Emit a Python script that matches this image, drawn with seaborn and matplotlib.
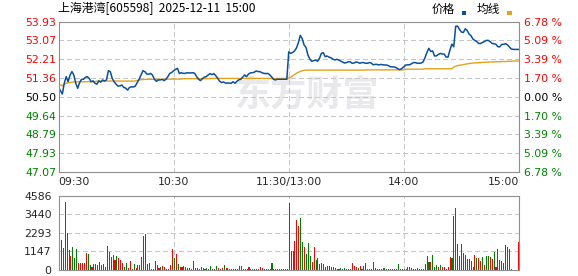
import numpy as np
import pandas as pd
import matplotlib
matplotlib.use("Agg")
import matplotlib.pyplot as plt
import seaborn as sns
from matplotlib.patches import Rectangle

# ---------------- data ----------------
title = "上海港湾[605598]  2025-12-11  15:00"
legend_labels = ["价格", "均线"]
time_labels = ["09:30", "10:30", "11:30/13:00", "14:00", "15:00"]
time_ticks = [0, 60, 120, 180, 240]
price_ticks = [47.07, 47.93, 48.79, 49.64, 50.50, 51.36, 52.21, 53.07, 53.93]
pct_labels = ["6.78 %", "5.09 %", "3.39 %", "1.70 %", "0.00 %",
              "1.70 %", "3.39 %", "5.09 %", "6.78 %"]
prev_close = 50.50
vol_ticks = [0, 1147, 2293, 3440, 4586]

price = [
    50.94, 50.78, 50.63, 51.12, 51.42, 51.19, 51.49, 51.65, 51.49, 51.12,
    50.89, 51.15, 51.30, 51.30, 51.39, 51.42, 51.34, 51.19, 51.23, 51.12,
    51.08, 51.23, 51.17, 51.27, 51.22, 51.27, 51.69, 51.65, 51.34, 51.19,
    51.08, 50.99, 51.00, 51.04, 50.93, 50.90, 50.81, 50.93, 50.96, 50.95,
    50.99, 51.15, 51.30, 51.49, 51.69, 51.65, 51.54, 51.53, 51.57, 51.49,
    51.30, 51.21, 51.27, 51.27, 51.30, 51.24, 51.30, 51.42, 51.57, 51.61,
    51.69,
    51.75, 51.80, 51.56, 51.60, 51.57, 51.57, 51.60, 51.59, 51.59, 51.60,
    51.57, 51.42, 51.30, 51.24, 51.33, 51.40, 51.42, 51.50, 51.56, 51.51,
    51.56, 51.46, 51.34, 51.21, 51.15, 51.18, 51.13, 51.13, 51.13, 51.12,
    51.19, 51.12, 51.21, 51.28, 51.30, 51.40, 51.50, 51.42, 51.54, 51.59,
    51.60, 51.62, 51.68, 51.65, 51.65, 51.60, 51.57, 51.56, 51.57, 51.51,
    51.42, 51.30, 51.27, 51.30, 51.30, 51.30, 51.30, 51.30, 51.30,
    52.55,
    52.48, 52.52, 52.59, 52.72, 52.96, 53.30, 53.15, 52.86, 52.75, 52.40,
    52.22, 52.12, 52.15, 52.18, 52.12, 52.25, 52.48, 52.51, 52.33, 52.36,
    52.31, 52.28, 52.22, 52.18, 52.21, 52.18, 52.13, 52.09, 52.04, 52.06,
    52.10, 52.10, 52.03, 52.04, 52.09, 52.07, 52.03, 52.06, 52.06, 52.03,
    52.03, 52.06, 52.04, 51.96, 51.98, 51.98, 51.95, 51.98, 51.96, 51.95,
    51.95, 51.92, 51.87, 51.87, 51.86, 51.83, 51.77, 51.74, 51.80, 51.87,
    51.95, 51.96, 51.96, 52.01, 52.06, 52.06, 52.03, 52.03, 52.04, 52.09,
    52.28, 52.52, 52.71, 52.57, 52.59, 52.36, 52.37, 52.43, 52.48, 52.45,
    52.45, 52.31, 52.31, 52.63, 52.90, 52.78, 53.71, 53.72, 53.57, 53.45,
    53.43, 53.60, 53.52, 53.36, 53.28, 53.13, 53.07, 53.01, 52.93, 52.93,
    52.98, 53.02, 53.07, 53.07, 53.01, 52.93, 52.92, 52.89, 52.78, 52.78,
    52.89, 52.89, 52.92, 52.87, 52.77, 52.68, 52.66, 52.66, 52.66, 52.66,
]

avg = [
    50.96, 51.05, 51.00, 51.08, 51.12, 51.14, 51.15, 51.17, 51.18, 51.18,
    51.19, 51.19, 51.19, 51.19, 51.19, 51.19, 51.19, 51.19, 51.19, 51.19,
    51.22, 51.22, 51.22, 51.22, 51.22, 51.22, 51.22, 51.22, 51.22, 51.22,
    51.22, 51.22, 51.22, 51.22, 51.22, 51.22, 51.22, 51.22, 51.22, 51.22,
    51.22, 51.25, 51.27, 51.28, 51.29, 51.30,
    51.30, 51.30, 51.30, 51.30, 51.30, 51.30, 51.30, 51.30, 51.30, 51.30,
    51.31, 51.31, 51.31, 51.31, 51.31, 51.31, 51.31, 51.31, 51.31,
    51.33, 51.33, 51.33, 51.33, 51.33, 51.33, 51.33, 51.33, 51.33, 51.33,
    51.33, 51.33, 51.33, 51.33, 51.33,
    51.34, 51.34, 51.34, 51.34, 51.34, 51.34, 51.34, 51.34, 51.34, 51.34,
    51.34, 51.34, 51.34, 51.34, 51.34, 51.34, 51.34, 51.34, 51.34, 51.34,
    51.34, 51.34, 51.34, 51.34, 51.34, 51.34, 51.34, 51.34, 51.34, 51.34,
    51.34, 51.34, 51.34, 51.34, 51.34, 51.34, 51.34, 51.34, 51.34, 51.34,
    51.36,
    51.39, 51.46, 51.52, 51.57, 51.62, 51.66, 51.69, 51.71, 51.72, 51.72,
    51.72, 51.72, 51.72, 51.72, 51.72, 51.72, 51.72, 51.72, 51.72, 51.72,
    51.72, 51.72, 51.72, 51.72, 51.72, 51.72, 51.72, 51.72, 51.72, 51.72,
    51.72, 51.72, 51.72, 51.72, 51.72, 51.72, 51.72, 51.72, 51.72, 51.72,
    51.73, 51.73, 51.73, 51.73, 51.73, 51.73, 51.73, 51.73, 51.73, 51.73,
    51.73, 51.73, 51.73, 51.73, 51.73, 51.73, 51.73, 51.73, 51.73, 51.73,
    51.76, 51.76, 51.76, 51.76, 51.76, 51.76, 51.76, 51.76, 51.76, 51.76,
    51.78, 51.78, 51.78, 51.78, 51.78, 51.78, 51.78, 51.78, 51.78, 51.78,
    51.78, 51.78, 51.78, 51.78, 51.78,
    51.86, 51.90, 51.92, 51.94, 51.95, 51.97, 51.99, 52.00, 52.02, 52.03,
    52.04, 52.05, 52.05, 52.06, 52.06, 52.07, 52.07, 52.08, 52.08, 52.09,
    52.09, 52.09, 52.10, 52.10,
    52.10, 52.11, 52.11, 52.11, 52.12, 52.12, 52.12, 52.13, 52.13, 52.13, 52.13,
]

volume = [
    3290, 1850, 1380, 4216, 2300, 1230, 860, 1440, 760, 1300,
    410, 410, 410, 410, 1070, 990, 310, 160, 370, 370,
    310, 510, 310, 370, 160, 1480, 1130, 780, 925, 620,
    860, 720, 620, 410, 205, 410, 100, 555, 40, 370,
    100, 310, 310, 780, 2100, 2220, 370, 450, 40, 40,
    555, 310, 100, 205, 250, 160, 40, 40, 310, 1275,
    760, 990, 370, 160, 160, 250, 160, 100, 100, 40,
    555, 100, 100, 40, 160, 100, 80, 100, 40, 250,
    40, 40, 250, 140, 40, 100, 310, 140, 100, 40,
    40, 40, 40, 40, 250, 250, 40, 40, 40, 160,
    40, 40, 40, 40, 40, 160, 100, 40, 40, 40,
    40, 410, 40, 40, 40, 40, 40, 40, 40, 40,
    4150,
    1190, 1190, 1790, 3090, 2710, 3210, 1750, 1440, 990, 1690,
    860, 510, 1440, 620, 760, 370, 450, 370, 160, 250,
    250, 160, 160, 100, 40, 40, 100, 40, 100, 40,
    40, 40, 450, 250, 160, 100, 250, 40, 250, 450,
    40, 40, 40, 510, 140, 40, 40, 40, 100, 100,
    40, 40, 40, 40, 40, 40, 370, 40, 40, 40,
    40, 205, 205, 100, 40, 40, 100, 40, 40, 40,
    370, 860, 510, 510, 925, 160, 310, 160, 310, 205,
    205, 40, 205, 780, 760, 3330, 3830, 1600, 860, 1600,
    1070, 925, 660, 660, 555, 160, 925, 760, 760, 555,
    820, 310, 860, 860, 820, 660, 1130, 160, 1300, 620,
    555, 450, 1540, 1440, 1300, 40, 30, 0, 0, 1750,
]

direction = (
    "RGRRGRRGGG" "RRRRRGGRGR" "RGRGGRRGGR" "GRRRGGRRGG" "RRRRRGGRRG"
    "GRRGRRRRRR" "GRGRRGRRGR" "GGGRRGRGRG" "RGGRGRGRGR" "RRRRRRGGRR"
    "RRGGRRRGRG" "RGRRRRGRRR"
    "R"
    "GGRRRGGRGG" "GRRGGRRRGR" "GGRGGRGRGR" "RRRRRGRRGR" "RRRGRRRRGG"
    "RGGRGRGRRR" "RRGRGRGRRR" "RRGRGGGRGR" "RRRRGRRGGR" "GGGGGRRGRR"
    "GRGGRRGRGR" "RRGGGRRRRR"
)

# ---------------- styling ----------------
BLUE = "#0b4f9f"
ORANGE = "#e3a21a"
RED = "#ff0000"
GREEN = "#008000"
GRID = "#c6c6c6"
FRAME = "#8f8f8f"
FS = 7.8

sns.set_style("white")
plt.rcParams["font.family"] = ["DejaVu Sans", "Noto Sans CJK SC"]
CJK = ["Noto Sans CJK SC", "DejaVu Sans"]

W, H = 578, 276
fig = plt.figure(figsize=(W / 100, H / 100), dpi=100)

L, R = 58.5, 519.0
ax = fig.add_axes([L / W, 1 - 172.3 / H, (R - L) / W, (172.3 - 21.5) / H])
ax2 = fig.add_axes([L / W, 1 - 270.0 / H, (R - L) / W, (270.0 - 196.0) / H])


def draw_grid(a, yvals, xvals):
    kw = dict(color=GRID, linewidth=0.75, linestyle=(0, (4, 3)), zorder=2,
              antialiased=False)
    for v in yvals:
        a.axhline(v, **kw)
    for t in xvals:
        a.axvline(t, **kw)


# ---------------- price panel ----------------
df = pd.DataFrame({"t": np.arange(len(price)), "price": price, "avg": avg})

ax.text(0.532, 0.656, "东方财富", transform=fig.transFigure, ha="center",
        va="center", fontsize=26, fontweight="bold", color="#e9e9ec",
        family=CJK, zorder=0)

sns.lineplot(data=df, x="t", y="avg", color=ORANGE, linewidth=1.0, ax=ax, zorder=3)
sns.lineplot(data=df, x="t", y="price", color=BLUE, linewidth=1.1, ax=ax, zorder=4)

ax.set_xlim(0, 240)
ax.set_ylim(price_ticks[0], price_ticks[-1])
draw_grid(ax, price_ticks[1:-1], time_ticks[1:-1])
ax.set_xlabel("")
ax.set_ylabel("")
ax.set_yticks(price_ticks)
ax.set_yticklabels([f"{v:.2f}" for v in price_ticks])
ax.set_xticks(time_ticks)
ax.set_xticklabels(time_labels)
ax.tick_params(axis="y", length=0, pad=1.8, labelsize=FS)
ax.tick_params(axis="x", length=0, pad=3.6, labelsize=FS)
xl = ax.get_xticklabels()
xl[0].set_ha("left")
xl[-1].set_ha("right")


def lab_color(v):
    if abs(v - prev_close) < 1e-6:
        return "black"
    return RED if v > prev_close else GREEN


for lab, v in zip(ax.get_yticklabels(), price_ticks):
    lab.set_color(lab_color(v))

for s in ax.spines.values():
    s.set_color(FRAME)
    s.set_linewidth(0.8)
    s.set_zorder(6)

axr = ax.twinx()
axr.set_ylim(price_ticks[0], price_ticks[-1])
axr.set_yticks(price_ticks)
axr.set_yticklabels(pct_labels[::-1])
axr.tick_params(axis="y", length=0, pad=3.8, labelsize=FS)
for lab, v in zip(axr.get_yticklabels(), price_ticks):
    lab.set_color(lab_color(v))
for s in axr.spines.values():
    s.set_visible(False)

# ---------------- volume panel ----------------
df2 = pd.DataFrame({"t": np.arange(len(volume)), "vol": volume,
                    "dir": list(direction)})

sns.barplot(data=df2, x="t", y="vol", hue="dir",
            palette={"R": RED, "G": GREEN}, native_scale=True, dodge=False,
            width=0.55, errorbar=None, legend=False, saturation=1,
            linewidth=0, ax=ax2, zorder=3)
for p in ax2.patches:
    p.set_antialiased(False)
    p.set_snap(True)

ax2.set_xlim(-0.5, 240)
ax2.set_ylim(0, vol_ticks[-1])
draw_grid(ax2, vol_ticks[1:-1], time_ticks[1:-1])
ax2.set_xlabel("")
ax2.set_ylabel("")
ax2.set_yticks(vol_ticks)
ax2.set_yticklabels([str(v) for v in vol_ticks])
ax2.set_xticks([])
ax2.tick_params(axis="both", length=0, pad=5, labelsize=FS)
for s in ax2.spines.values():
    s.set_color(FRAME)
    s.set_linewidth(0.8)
    s.set_zorder(6)

# ---------------- title & legend ----------------
fig.text(58 / W, 1 - 8.5 / H, title, fontsize=8.6, family=CJK,
         va="center", ha="left", color="black")
fig.text(431.5 / W, 1 - 9 / H, legend_labels[0], fontsize=8.4, family=CJK,
         va="center", ha="left", color="black")
fig.add_artist(Rectangle((461.5 / W, 1 - 14.5 / H), 4.5 / W, 3 / H,
                         transform=fig.transFigure, color=BLUE, lw=0))
fig.text(476.5 / W, 1 - 9 / H, legend_labels[1], fontsize=8.4, family=CJK,
         va="center", ha="left", color="black")
fig.add_artist(Rectangle((507 / W, 1 - 14.5 / H), 4.5 / W, 3 / H,
                         transform=fig.transFigure, color=ORANGE, lw=0))

fig.savefig("out.png", dpi=100)
